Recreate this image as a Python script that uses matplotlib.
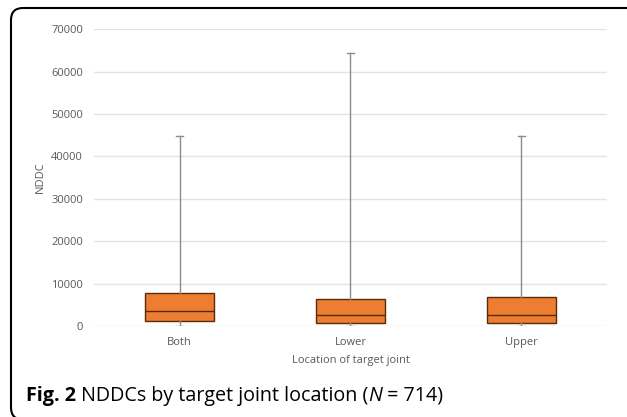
import matplotlib
matplotlib.use("Agg")
import matplotlib.pyplot as plt
from matplotlib.patches import FancyBboxPatch

plt.rcParams['font.family'] = ['Open Sans', 'DejaVu Sans']

categories = ["Both", "Lower", "Upper"]
whisker_low = [100, 0, 0]
q1 = [1250, 800, 800]
median = [3500, 2500, 2500]
q3 = [7900, 6350, 6800]
whisker_high = [44800, 64300, 44800]

stats = []
for i in range(len(categories)):
    stats.append({"label": categories[i], "whislo": whisker_low[i], "q1": q1[i],
                  "med": median[i], "q3": q3[i], "whishi": whisker_high[i], "fliers": []})

fig = plt.figure(figsize=(6.27, 4.17), dpi=100)
ax = fig.add_axes([0.15, 0.218, 0.818, 0.712])

ax.bxp(stats, positions=range(len(categories)), widths=0.4, patch_artist=True,
       boxprops=dict(facecolor="#ED7D31", edgecolor="#5a2a0c", linewidth=1.0),
       medianprops=dict(color="#5a2a0c", linewidth=1.0),
       whiskerprops=dict(color="#8c8c8c", linewidth=1.0),
       capprops=dict(color="#8c8c8c", linewidth=1.0), capwidths=0.04,
       showfliers=False, zorder=3)

ax.set_xlim(-0.5, 2.5)
ax.set_ylim(0, 70000)
ax.set_yticks(range(0, 70001, 10000))
ax.yaxis.grid(True, color="#e3e3e3", linewidth=1.0)
ax.set_axisbelow(True)
for s in ax.spines.values():
    s.set_visible(False)
ax.tick_params(axis="both", length=0, labelsize=8, labelcolor="#595959", pad=8)
ax.tick_params(axis="x", pad=8)
ax.set_ylabel("NDDC", fontsize=8, color="#595959", labelpad=4)
ax.set_xlabel("Location of target joint", fontsize=8, color="#595959", labelpad=5)

# rounded frame around the figure, measured in inches so the corner stays round
border = FancyBboxPatch((0.11, -0.025), 7.0, 4.115, transform=fig.dpi_scale_trans,
                        boxstyle="round,pad=0,rounding_size=0.12",
                        facecolor="none", edgecolor="black", linewidth=1.5)
fig.patches.append(border)

# caption pieces placed one after another
pieces = [("Fig. 2", "bold", "normal"),
          (" NDDCs by target joint location (", "normal", "normal"),
          ("N", "normal", "italic"),
          (" = 714)", "normal", "normal")]
renderer = fig.canvas.get_renderer()
x = 26
for txt, w, st in pieces:
    t = fig.text(x / 627, (417 - 401) / 417, txt, fontsize=14.2, fontweight=w,
                 style=st, color="black", va="baseline")
    x = t.get_window_extent(renderer).x1

fig.savefig("out.png", dpi=100)
